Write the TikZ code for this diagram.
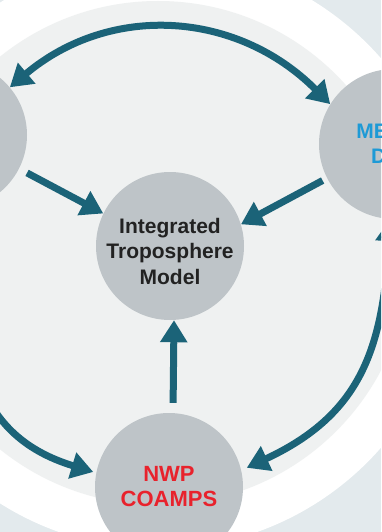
\documentclass[tikz,border=0pt]{standalone}
\usepackage{fontspec}
\setmainfont{Liberation Sans}
\usepackage{xcolor}
\usetikzlibrary{arrows.meta}

\definecolor{backblue}{RGB}{227,234,237}
\definecolor{diskgray}{RGB}{239,241,241}
\definecolor{nodegray}{RGB}{190,196,200}
\definecolor{linkteal}{RGB}{27,99,120}
\definecolor{nwpred}{RGB}{232,34,44}
\definecolor{metblue}{RGB}{30,154,214}
\definecolor{darktext}{RGB}{34,34,34}

\tikzset{
  bubble/.style={circle, fill=nodegray, minimum size=148pt, inner sep=0pt,
                 align=center, font=\bfseries\fontsize{21}{25.5}\selectfont},
  link/.style={draw=linkteal, line width=7pt}
}

\begin{document}
\begin{tikzpicture}[x=1pt, y=1pt, >={Triangle[length=22pt,width=26pt]}]
\useasboundingbox (0,0) rectangle (381,-532);
\clip (0,0) rectangle (381,-532);
\fill[backblue] (0,0) rectangle (381,-532);
\fill[white] (158,-253) circle (296);
\fill[diskgray] (158,-253) circle (252);

\node [bubble] (lft) at (-47,-135) {};
\node [bubble, minimum size=150pt, text=metblue] (mdd) at (394,-144) {METOC\\Data};
\node [bubble] (itm) at (170,-246) {};
\node [align=center, text=darktext, font=\bfseries\fontsize{21}{25.5}\selectfont]
      (itm-text) at (170,-251) {Integrated\\Troposphere\\Model};
\node [bubble, text=nwpred, font=\bfseries\fontsize{22}{25}\selectfont]
      (nwp) at (169,-487) {NWP\\COAMPS};

\draw [<->, link] (lft) to[out=40, in=135, looseness=1.05] (mdd.148);
\draw [<->, link, shorten >=6pt] (mdd) to[out=-93, in=25, looseness=1.15] (nwp.13);
\draw [<->, link, shorten >=3pt] (lft) to[out=-87, in=163, looseness=1.15] (nwp.169);
\draw [->, link, shorten <=9pt] (lft.-27) -- (itm.154);
\draw [->, link, shorten <=5pt] (mdd.207) -- (itm.17);
\draw [->, link, shorten <=10pt] ([xshift=4pt]nwp.north) -- ([xshift=4pt]itm.south);
\end{tikzpicture}
\end{document}
